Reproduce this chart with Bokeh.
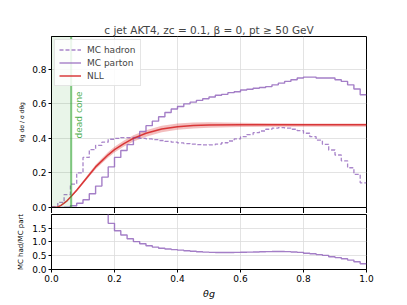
import numpy as np
from math import pi
from bokeh.plotting import figure
from bokeh.layouts import column
from bokeh.models import (Range1d, BoxAnnotation, Span, Label, Legend, LegendItem,
                          FixedTicker, PrintfTickFormatter)
from bokeh.embed import file_html
from bokeh.resources import INLINE

# ---------------- data ----------------
bin_edges = np.linspace(0.0, 1.0, 51)

mc_hadron = [0.005, 0.03, 0.075, 0.135, 0.20, 0.29, 0.335, 0.36, 0.378, 0.395,
             0.40, 0.405, 0.405, 0.403, 0.40, 0.397, 0.393, 0.388, 0.383, 0.378,
             0.374, 0.37, 0.367, 0.364, 0.362, 0.363, 0.367, 0.375, 0.385, 0.397,
             0.41, 0.422, 0.433, 0.443, 0.453, 0.459, 0.463, 0.46, 0.453, 0.445,
             0.43, 0.41, 0.39, 0.366, 0.333, 0.304, 0.27, 0.23, 0.192, 0.143]

mc_parton = [0.0, 0.0, 0.002, 0.01, 0.025, 0.045, 0.08, 0.124, 0.176, 0.235,
             0.29, 0.33, 0.364, 0.405, 0.44, 0.474, 0.50, 0.525, 0.55, 0.57,
             0.585, 0.60, 0.61, 0.62, 0.63, 0.64, 0.65, 0.655, 0.665, 0.67,
             0.68, 0.685, 0.69, 0.695, 0.70, 0.71, 0.72, 0.73, 0.74, 0.75,
             0.755, 0.755, 0.75, 0.75, 0.75, 0.74, 0.73, 0.71, 0.686, 0.653]

ratio_had_part = [np.nan, np.nan, np.nan, 13.5, 8.0, 6.4, 4.2, 2.9, 2.15, 1.67,
                  1.40, 1.25, 1.11, 1.01, 0.93, 0.86, 0.81, 0.77, 0.74, 0.72,
                  0.70, 0.68, 0.66, 0.64, 0.63, 0.62, 0.615, 0.615, 0.615, 0.62,
                  0.625, 0.63, 0.635, 0.64, 0.645, 0.65, 0.65, 0.645, 0.635, 0.62,
                  0.59, 0.57, 0.54, 0.51, 0.46, 0.43, 0.39, 0.34, 0.28, 0.21]

nll_x = [0.0, 0.01, 0.02, 0.03, 0.04, 0.05, 0.06, 0.08, 0.10, 0.12, 0.14, 0.16, 0.18,
         0.20, 0.23, 0.26, 0.30, 0.35, 0.40, 0.45, 0.50, 0.60, 0.70, 0.80, 0.90, 1.00]
nll_c = [0.0, 0.0, 0.003, 0.012, 0.025, 0.04, 0.06, 0.10, 0.145, 0.19, 0.235, 0.27, 0.305,
         0.335, 0.37, 0.40, 0.43, 0.455, 0.468, 0.475, 0.478, 0.479, 0.479, 0.479, 0.479, 0.479]
nll_lo = [0.0, 0.0, 0.002, 0.010, 0.022, 0.036, 0.055, 0.093, 0.136, 0.179, 0.222, 0.256, 0.29,
          0.319, 0.353, 0.382, 0.41, 0.436, 0.45, 0.458, 0.462, 0.466, 0.467, 0.468, 0.468, 0.468]
nll_hi = [0.0, 0.0, 0.004, 0.014, 0.028, 0.044, 0.066, 0.107, 0.154, 0.201, 0.248, 0.285, 0.321,
          0.352, 0.388, 0.418, 0.447, 0.473, 0.487, 0.492, 0.493, 0.49, 0.488, 0.487, 0.486, 0.486]

dead_cone = 0.0625

x_ticks = [0.0, 0.2, 0.4, 0.6, 0.8, 1.0]
y_ticks_top = [0.0, 0.2, 0.4, 0.6, 0.8]
y_ticks_bot = [0.0, 0.5, 1.0, 1.5]

title_text = "c jet AKT4, zc = 0.1, β = 0, pt ≥ 50 GeV"

# ---------------- styling ----------------
FONT = "DejaVu Sans"
PURPLE = "#9467bd"
RED = "#d62728"
GREEN = "#2ca02c"
GRID = "#dcdcdc"


def style(p):
    p.outline_line_color = "black"
    p.outline_line_width = 1
    p.outline_line_alpha = 1
    p.grid.grid_line_color = GRID
    p.grid.grid_line_width = 0.8
    p.background_fill_color = "white"
    p.border_fill_color = "white"
    for ax in p.axis:
        ax.axis_line_color = "black"
        ax.major_tick_line_color = "black"
        ax.minor_tick_line_color = None
        ax.major_tick_out = 3
        ax.major_tick_in = 0
        ax.major_label_text_font = FONT
        ax.major_label_text_font_size = "9px"
        ax.major_label_text_color = "black"
        ax.axis_label_text_font = FONT
        ax.axis_label_text_color = "black"
        ax.axis_label_text_font_style = "normal"
        ax.major_label_standoff = 2


def step_xy(values):
    return list(bin_edges), list(values) + [values[-1]]


# ---------------- top panel ----------------
p1 = figure(width=393, height=213, x_range=Range1d(0, 1), y_range=Range1d(0, 0.99),
            output_backend="svg", toolbar_location=None,
            min_border_left=51, min_border_right=27, min_border_top=36, min_border_bottom=5)
p1.title.text = title_text
p1.title.align = "center"
p1.title.text_font = FONT
p1.title.text_font_size = "10.5px"
p1.title.text_font_style = "normal"
p1.title.standoff = 2

box = BoxAnnotation(left=0, right=dead_cone, fill_color=GREEN, fill_alpha=0.1, line_color=None)
p1.add_layout(box)

band = p1.varea(x=nll_x, y1=nll_lo, y2=nll_hi, fill_color=RED, fill_alpha=0.3)

hx, hy = step_xy(mc_hadron)
r_had = p1.step(hx, hy, mode="after", line_color=PURPLE, line_width=1.3, line_alpha=0.8,
                line_dash="4 2")
px, py = step_xy(mc_parton)
r_par = p1.step(px, py, mode="after", line_color=PURPLE, line_width=1.4, line_alpha=0.85)
r_nll = p1.line(nll_x, nll_c, line_color=RED, line_width=1.5, line_alpha=0.9)

p1.add_layout(Span(location=dead_cone, dimension="height", line_color=GREEN,
                   line_alpha=0.6, line_width=2))
p1.add_layout(Label(x=dead_cone + 0.01, y=0.40, text="dead cone", angle=pi / 2,
                    text_color=GREEN, text_alpha=0.85, text_font=FONT, text_font_size="9px",
                    text_align="left", text_baseline="top"))

legend = Legend(items=[LegendItem(label="MC hadron", renderers=[r_had]),
                       LegendItem(label="MC parton", renderers=[r_par]),
                       LegendItem(label="NLL", renderers=[r_nll])],
                location="top_left")
legend.label_text_font = FONT
legend.label_text_font_size = "9px"
legend.label_height = 11
legend.glyph_height = 11
legend.glyph_width = 22
legend.spacing = 2
legend.padding = 4
legend.margin = 3
legend.label_standoff = 6
legend.border_line_color = "#cccccc"
legend.border_line_width = 1
legend.background_fill_alpha = 0.85
p1.add_layout(legend)

style(p1)
xa1 = p1.xaxis[0]
xa1.ticker = FixedTicker(ticks=x_ticks)
xa1.major_label_overrides = {t: "" for t in x_ticks}
xa1.major_label_text_color = None
xa1.major_label_text_font_size = "1px"
xa1.major_label_standoff = 0
xa1.major_tick_out = 6
p1.yaxis.ticker = FixedTicker(ticks=y_ticks_top)
p1.yaxis.formatter = PrintfTickFormatter(format="%.1f")
p1.yaxis.axis_label = "θg dσ / σ dθg"
p1.yaxis.axis_label_text_font_size = "6px"
p1.yaxis.axis_label_standoff = 4

# ---------------- bottom panel ----------------
p2 = figure(width=393, height=88, x_range=p1.x_range, y_range=Range1d(0, 1.99),
            output_backend="svg", toolbar_location=None,
            min_border_left=51, min_border_right=27, min_border_top=1, min_border_bottom=30)
rx, ry = step_xy(ratio_had_part)
p2.step(rx, ry, mode="after", line_color=PURPLE, line_width=1.4, line_alpha=0.85)
style(p2)
bottom_axis = p2.xaxis[0]
bottom_axis.ticker = FixedTicker(ticks=x_ticks)
bottom_axis.formatter = PrintfTickFormatter(format="%.1f")
bottom_axis.axis_label = "θg"
bottom_axis.axis_label_text_font_size = "9.5px"
bottom_axis.axis_label_text_font_style = "italic"
bottom_axis.axis_label_standoff = 3
p2.yaxis.ticker = FixedTicker(ticks=y_ticks_bot)
p2.yaxis.formatter = PrintfTickFormatter(format="%.1f")
p2.yaxis.axis_label = "MC had/MC part"
p2.yaxis.axis_label_text_font_size = "7px"
p2.yaxis.axis_label_standoff = 4

layout = column(p1, p2, spacing=0)
open("out.html", "w").write(file_html(layout, INLINE))
